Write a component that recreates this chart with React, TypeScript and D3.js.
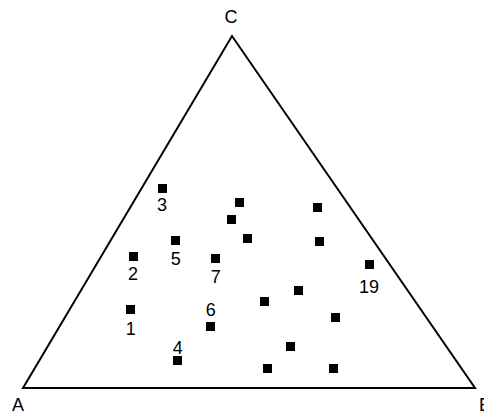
import React from "react";
import * as d3 from "d3";

// Ternary compositions (fractions of A, B, C) for each sample
const sampleIds = ["1", "2", "3", "4", "5", "6", "7", "8", "9", "10", "11", "12", "13", "14", "15", "16", "17", "18", "19"];
const fracA = [0.642, 0.555, 0.387, 0.616, 0.436, 0.490, 0.375, 0.238, 0.280, 0.275, 0.073, 0.122, 0.243, 0.332, 0.201, 0.347, 0.431, 0.283, 0.045];
const fracB = [0.136, 0.070, 0.045, 0.307, 0.144, 0.334, 0.256, 0.234, 0.240, 0.299, 0.413, 0.463, 0.481, 0.421, 0.600, 0.537, 0.515, 0.663, 0.603];
const fracC = [0.222, 0.375, 0.568, 0.077, 0.420, 0.176, 0.369, 0.528, 0.480, 0.426, 0.514, 0.415, 0.276, 0.247, 0.199, 0.117, 0.054, 0.054, 0.352];
// Which sample numbers are printed
const shownIds = ["1", "2", "3", "4", "5", "6", "7", "19"];
const vertexNames = ["A", "B", "C"];

// Vertical offset of each printed number from its marker centre
const labelDy: Record<string, number> = {
  "1": 25, "2": 24, "3": 23, "4": -7, "5": 25, "6": -10, "7": 25, "19": 29,
};

const W = 484;
const H = 412;

export default function App() {
  const left = 23;
  const right = 475;
  const base = 388;
  const top = 36;
  const apexX = 232;

  const xScale = d3.scaleLinear().domain([0, 1]).range([left, right]);
  const yScale = d3.scaleLinear().domain([0, 1]).range([base, top]);
  const apexU = xScale.invert(apexX);

  const project = (b: number, c: number) => ({
    x: xScale(b + c * apexU),
    y: yScale(c),
  });

  const vA = project(0, 0);
  const vB = project(1, 0);
  const vC = project(0, 1);

  const tri = d3.line()([
    [vA.x, vA.y],
    [vB.x, vB.y],
    [vC.x, vC.y],
  ]) + "Z";

  const pts = sampleIds.map((id, i) => {
    const p = project(fracB[i], fracC[i]);
    return { id, a: fracA[i], ...p };
  });

  const sq = 9;
  const font = "'Liberation Sans', Arial, sans-serif";
  const fs = 18;

  return (
    <svg
      width={W}
      height={H}
      style={{ position: "absolute", left: 0, top: 0, background: "#fff" }}
    >
      <rect x={0} y={0} width={W} height={H} fill="#fff" />
      <path d={tri} fill="none" stroke="#000" strokeWidth={2} strokeLinejoin="miter" />
      {pts.map((p) => (
        <rect
          key={p.id}
          x={Math.round(p.x - sq / 2)}
          y={Math.round(p.y - sq / 2)}
          width={sq}
          height={sq}
          fill="#000"
          shapeRendering="crispEdges"
        />
      ))}
      {pts
        .filter((p) => shownIds.includes(p.id))
        .map((p) => (
          <text
            key={"l" + p.id}
            x={p.x}
            y={p.y + labelDy[p.id]}
            textAnchor="middle"
            fontFamily={font}
            fontSize={fs}
            fill="#000"
          >
            {p.id}
          </text>
        ))}
      <text x={vA.x - 5} y={411} textAnchor="middle" fontFamily={font} fontSize={fs} fill="#000">
        {vertexNames[0]}
      </text>
      <text x={vB.x + 10} y={411} textAnchor="middle" fontFamily={font} fontSize={fs} fill="#000">
        {vertexNames[1]}
      </text>
      <text x={vC.x - 1} y={23} textAnchor="middle" fontFamily={font} fontSize={fs} fill="#000">
        {vertexNames[2]}
      </text>
    </svg>
  );
}
